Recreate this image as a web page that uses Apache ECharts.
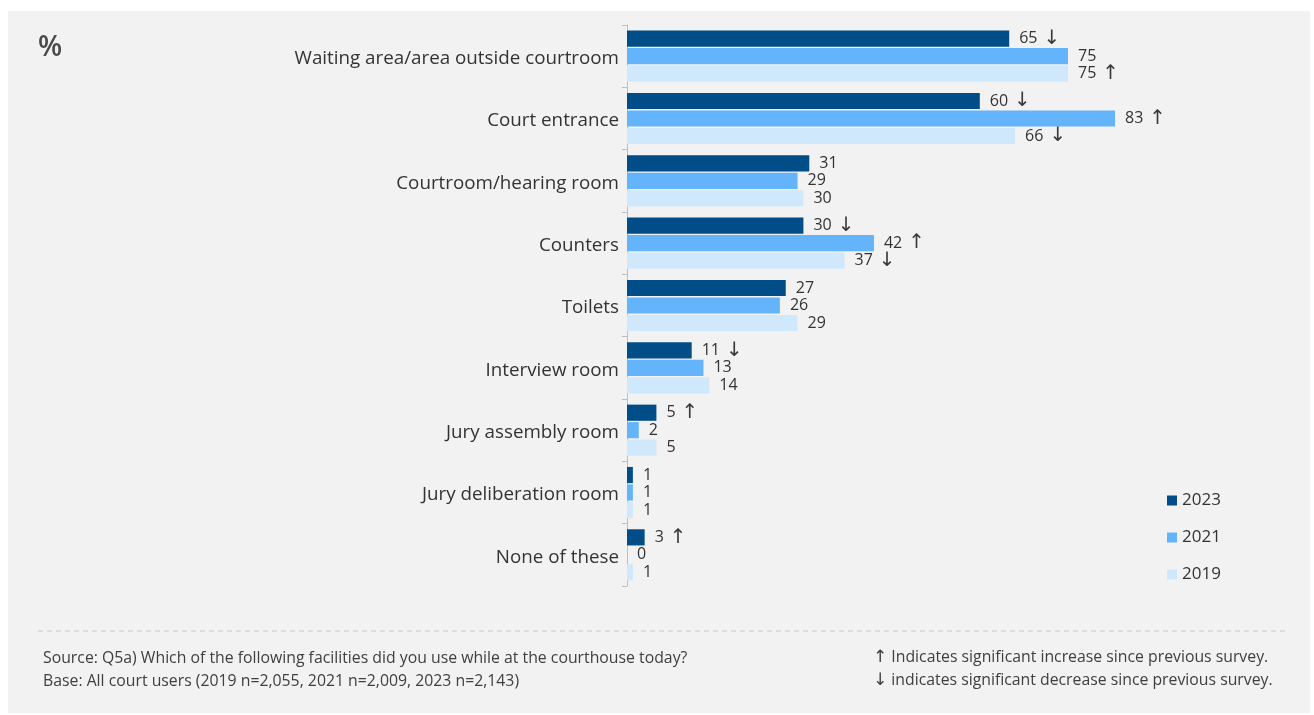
<!DOCTYPE html>
<html>
<head>
<meta charset="utf-8">
<script src="https://cdn.jsdelivr.net/npm/echarts@6/dist/echarts.min.js"></script>
<style>
  html, body { margin: 0; padding: 0; background: #ffffff; }
  #chart { width: 1314px; height: 715px; }
</style>
</head>
<body>
<div id="chart"></div>
<script>
// Facilities used at the courthouse, share of court users (%)
const categories = [
  'Waiting area/area outside courtroom',
  'Court entrance',
  'Courtroom/hearing room',
  'Counters',
  'Toilets',
  'Interview room',
  'Jury assembly room',
  'Jury deliberation room',
  'None of these'
];
const years = ['2023', '2021', '2019'];
const values2023 = [65, 60, 31, 30, 27, 11, 5, 1, 3];
const values2021 = [75, 83, 29, 42, 26, 13, 2, 1, 0];
const values2019 = [75, 66, 30, 37, 29, 14, 5, 1, 1];
// significance markers: 'up' = significant increase, 'down' = significant decrease
const sig2023 = ['down', 'down', '', 'down', '', 'down', 'up', '', 'up'];
const sig2021 = ['', 'up', '', 'up', '', '', '', '', ''];
const sig2019 = ['up', 'down', '', 'down', '', '', '', '', ''];
const xTicks = [0, 100];

const colors = ['#004d87', '#63b4fb', '#d0e8fb'];
const FONT = '"Open Sans", "Noto Sans", sans-serif';
const ARROW_FONT = '"DejaVu Sans", sans-serif';
const TEXT = '#333333';

function makeSeries(name, vals, sig, color) {
  return {
    name: name,
    type: 'bar',
    data: vals,
    barGap: '8%',
    barCategoryGap: '18%',
    itemStyle: { color: color },
    label: {
      show: true,
      position: 'right',
      distance: 10,
      formatter: function (p) {
        const s = sig[p.dataIndex];
        const arrow = s === 'up' ? '{a|↑}' : (s === 'down' ? '{a|↓}' : '');
        return '{v|' + p.value + '}' + arrow;
      },
      rich: {
        v: { fontFamily: FONT, fontSize: 16, color: TEXT },
        a: { fontFamily: ARROW_FONT, fontSize: 20, color: '#3a3a3a', padding: [0, 0, 0, 6] }
      }
    }
  };
}

const chart = echarts.init(document.getElementById('chart'));
chart.setOption({
  backgroundColor: '#ffffff',
  animation: false,
  textStyle: { fontFamily: FONT },
  grid: { left: 627, right: 99, top: 25, bottom: 129, containLabel: false },
  legend: {
    orient: 'vertical',
    left: 1162,
    top: 487,
    itemWidth: 10,
    itemHeight: 10,
    itemGap: 20,
    icon: 'rect',
    data: years,
    textStyle: { fontFamily: FONT, fontSize: 17, color: TEXT, padding: [0, 0, 0, 0] }
  },
  xAxis: {
    type: 'value',
    min: xTicks[0],
    max: xTicks[1],
    show: false
  },
  yAxis: {
    type: 'category',
    data: categories,
    inverse: true,
    axisLine: { show: true, lineStyle: { color: '#bfbfbf', width: 1 } },
    axisTick: { show: true, length: 5, lineStyle: { color: '#bfbfbf' } },
    axisLabel: {
      margin: 8,
      formatter: function (v) { return '{t|' + v + '}'; },
      rich: { t: { fontFamily: FONT, fontSize: 18.8, color: TEXT, padding: [5, 0, 0, 0] } }
    },
    splitLine: { show: false }
  },
  series: [
    makeSeries(years[0], values2023, sig2023, colors[0]),
    makeSeries(years[1], values2021, sig2021, colors[1]),
    makeSeries(years[2], values2019, sig2019, colors[2])
  ],
  graphic: [
    { type: 'rect', z: -10, silent: true, shape: { x: 8, y: 11, width: 1302, height: 702 }, style: { fill: '#f2f2f2' } },
    { type: 'text', left: 38, top: 34, style: { text: '%', font: '600 28px ' + FONT, fill: '#4a4a4a' } },
    { type: 'line', silent: true, shape: { x1: 38, y1: 631, x2: 1285, y2: 631 }, style: { stroke: '#c8c8c8', lineWidth: 1, lineDash: [5, 4] } },
    { type: 'text', left: 43, top: 650, style: { text: 'Source: Q5a) Which of the following facilities did you use while at the courthouse today?', font: '15.8px ' + FONT, fill: '#404040' } },
    { type: 'text', left: 43, top: 673, style: { text: 'Base: All court users (2019 n=2,055, 2021 n=2,009, 2023 n=2,143)', font: '15.8px ' + FONT, fill: '#404040' } },
    {
      type: 'text', left: 873, top: 649,
      style: {
        text: '{a|↑} Indicates significant increase since previous survey.',
        font: '15.8px ' + FONT, fill: '#404040',
        rich: { a: { fontFamily: ARROW_FONT, fontSize: 17, fill: '#404040' } }
      }
    },
    {
      type: 'text', left: 873, top: 672,
      style: {
        text: '{a|↓} indicates significant decrease since previous survey.',
        font: '15.8px ' + FONT, fill: '#404040',
        rich: { a: { fontFamily: ARROW_FONT, fontSize: 17, fill: '#404040' } }
      }
    }
  ]
});
</script>
</body>
</html>
